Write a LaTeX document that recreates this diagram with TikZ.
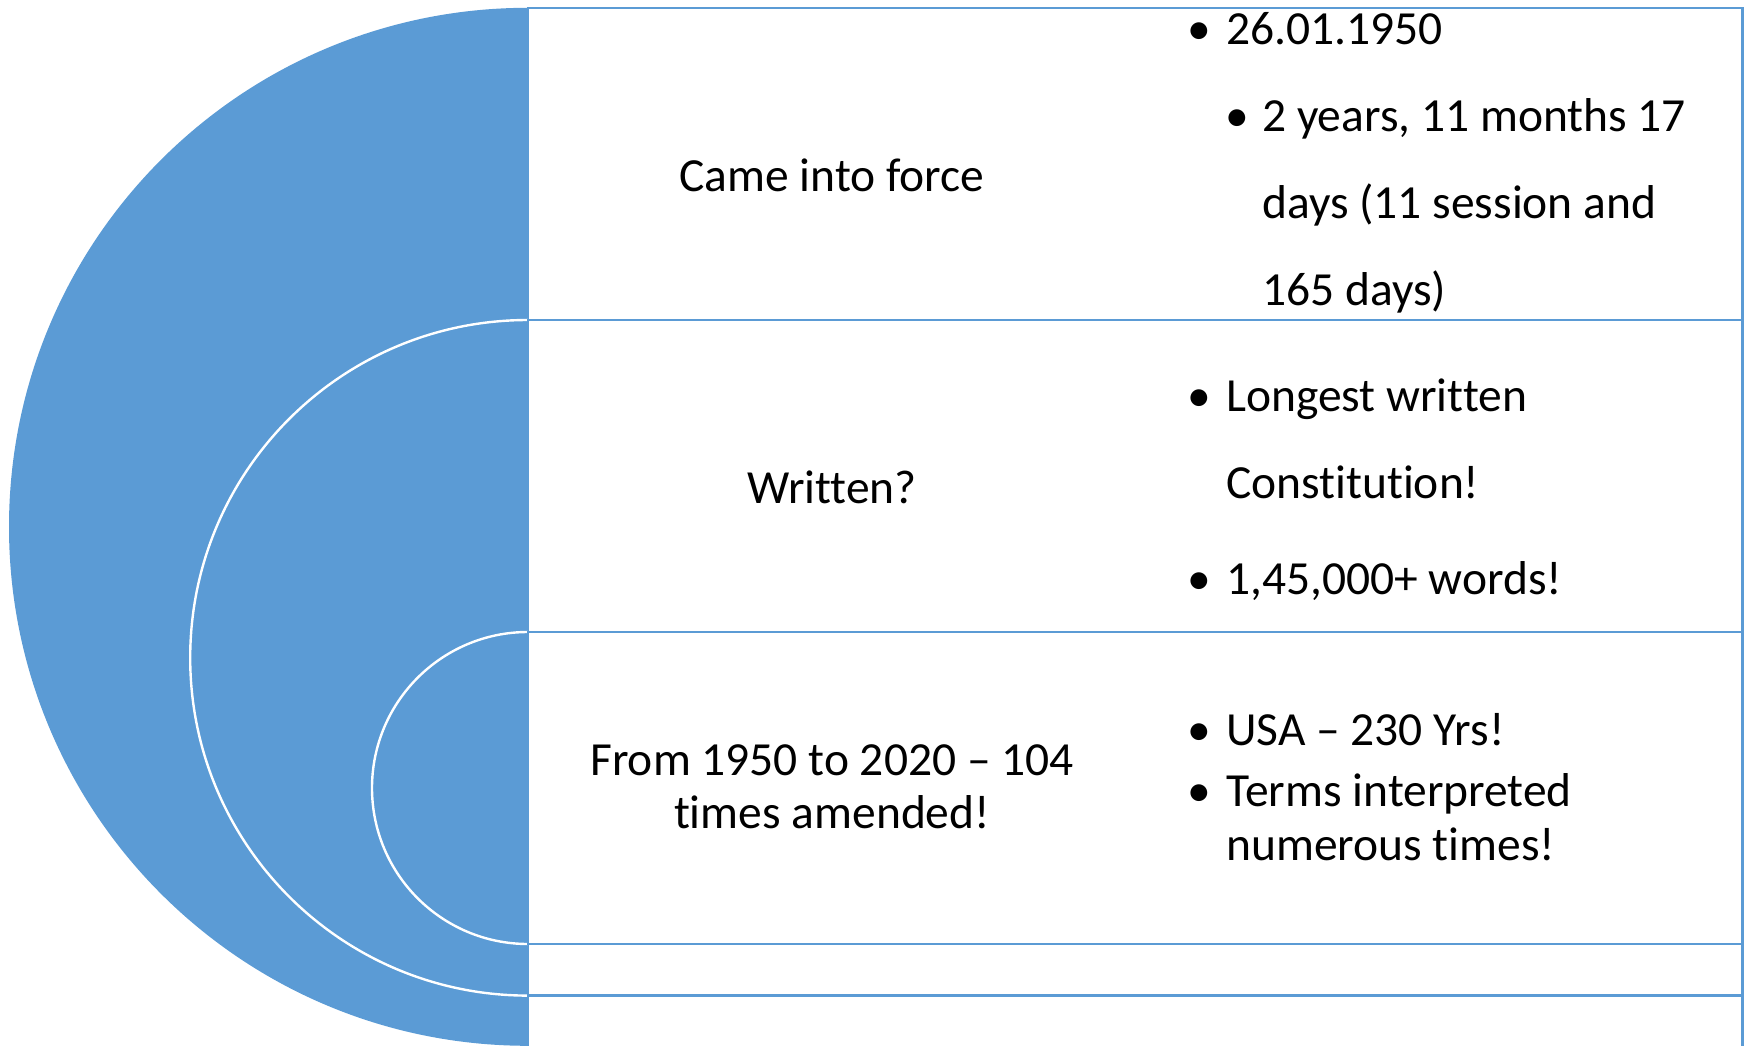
\documentclass[tikz,border=0pt]{standalone}
\usepackage{fontspec}
\setmainfont{Carlito}[Ligatures=NoCommon]
\definecolor{accent}{HTML}{5B9BD5}
\begin{document}
\begin{tikzpicture}[x=1pt,y=1pt,
  disc/.style={fill=accent},
  arcline/.style={draw=white,line width=2.4pt},
  panel/.style={fill=white,draw=accent,line width=2.5pt},
  lbl/.style={inner sep=0pt,anchor=base,font=\fontsize{47.5}{53}\selectfont,align=center},
  bul/.style={inner sep=0pt,anchor=base,font=\fontsize{47.5}{53}\selectfont},
  txt/.style={inner sep=0pt,anchor=base west,font=\fontsize{47.5}{53}\selectfont}]
\useasboundingbox (0,0) rectangle (1748,-1046);
\clip (0,0) rectangle (1748,-1046);
% outer layer
\fill[disc] (528,-7.8) arc (90:270:519pt) -- cycle;
\draw[panel] (528,-7.8) rectangle (1742.5,-1052);
% middle layer
\fill[disc] (528,-320) arc (90:270:337.8pt) -- cycle;
\draw[arcline] (528,-320) arc (90:270:337.8pt);
\draw[panel] (528,-320) rectangle (1742.5,-995.6);
% inner layer
\fill[disc] (528,-632) arc (90:270:156pt) -- cycle;
\draw[arcline] (528,-632) arc (90:270:156pt);
\draw[panel] (528,-632) rectangle (1742.5,-944);
% centre labels
\node[lbl] (l1) at (832,-191) {Came into force};
\node[lbl] (l2) at (832,-503) {Written?};
\node[lbl] (l3) at (832,-828) {From 1950 to 2020 – 104\\times amended!};
% top bullets
\node[bul] (b1) at (1199,-45) {•};
\node[txt] (t1) at (1226,-45) {26.01.1950};
\node[bul] (b2) at (1237,-131.7) {•};
\node[txt] (t2) at (1262,-131.7) {2 years, 11 months 17};
\node[txt] (t3) at (1262,-218.3) {days (11 session and};
\node[txt] (t4) at (1262,-305) {165 days)};
% middle bullets
\node[bul] (b3) at (1199,-411) {•};
\node[txt] (t5) at (1226,-411) {Longest written};
\node[txt] (t6) at (1226,-498) {Constitution!};
\node[bul] (b4) at (1199,-594) {•};
\node[txt] (t7) at (1226,-594) {1,45,000+ words!};
% bottom bullets
\node[bul] (b5) at (1199,-745) {•};
\node[txt] (t8) at (1226,-745) {USA – 230 Yrs!};
\node[bul] (b6) at (1199,-806) {•};
\node[txt] (t9) at (1226,-806) {Terms interpreted};
\node[txt] (t10) at (1226,-860) {numerous times!};
\end{tikzpicture}
\end{document}
